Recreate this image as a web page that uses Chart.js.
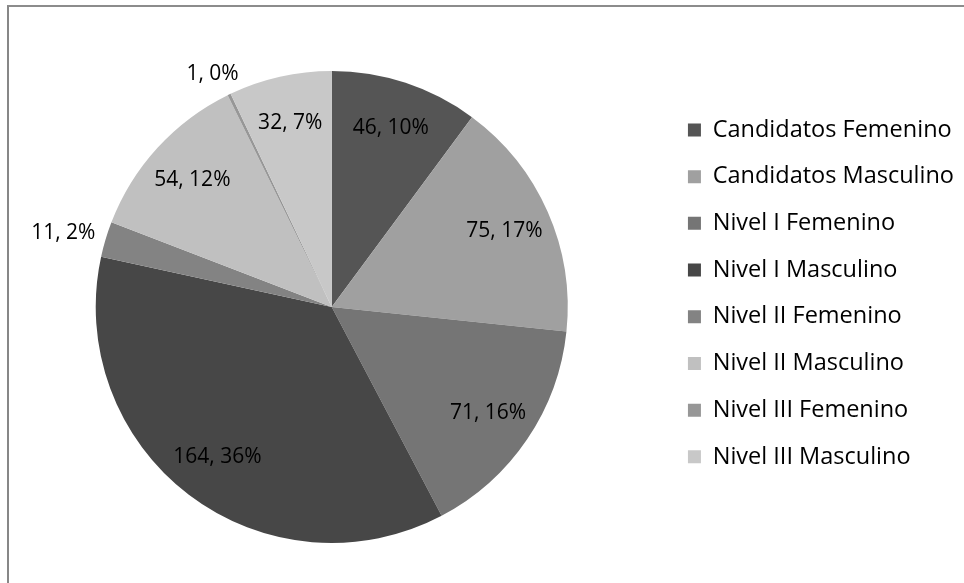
<!DOCTYPE html>
<html>
<head>
<meta charset="utf-8">
<script src="https://cdn.jsdelivr.net/npm/chart.js@4/dist/chart.umd.min.js"></script>
<style>
  html, body { margin: 0; padding: 0; background: #fff; overflow: hidden; width: 964px; height: 583px; }
  #frame { position: absolute; left: 7px; top: 5px; width: 1200px; height: 1200px;
           border-left: 2px solid #878787; border-top: 2px solid #8c8c8c; box-sizing: border-box; }
  #wrap { position: absolute; left: -10px; top: 0; width: 974px; height: 583px; }
</style>
</head>
<body>
<div id="frame"></div>
<div id="wrap"><canvas id="c"></canvas></div>
<script>
const categories = [
  'Candidatos Femenino', 'Candidatos Masculino', 'Nivel I Femenino', 'Nivel I Masculino',
  'Nivel II Femenino', 'Nivel II Masculino', 'Nivel III Femenino', 'Nivel III Masculino'
];
const values = [46, 75, 71, 164, 11, 54, 1, 32];
const colors = ['#555555', '#a0a0a0', '#757575', '#474747', '#838383', '#c0c0c0', '#979797', '#c8c8c8'];

const FAMILY = "'Open Sans', sans-serif";
const LEGEND_FONT = { family: FAMILY, size: 23.5 };
const LABEL_FONT = { family: FAMILY, size: 21 };
const BOX = 13;
const LEG_PAD = 23.2;
const CANVAS_W = 974;
const LEGEND_LEFT = 681.3;

// measure legend width so the legend starts where wanted
const mctx = document.createElement('canvas').getContext('2d');
mctx.font = LEGEND_FONT.size + 'px ' + FAMILY;
const maxTextW = Math.max(...categories.map(t => mctx.measureText(t).width));
const legendW = LEG_PAD + BOX + LEGEND_FONT.size / 2 + maxTextW + 10;
const padRight = Math.max(0, CANVAS_W - LEGEND_LEFT - legendW);

const labelPlugin = {
  id: 'sliceLabels',
  afterDatasetsDraw(chart) {
    const ctx = chart.ctx;
    const meta = chart.getDatasetMeta(0);
    const data = chart.data.datasets[0].data;
    const total = data.reduce((a, b) => a + b, 0);
    ctx.save();
    ctx.font = LABEL_FONT.size + 'px ' + FAMILY;
    ctx.fillStyle = '#000';
    ctx.textBaseline = 'middle';
    ctx.textAlign = 'center';
    meta.data.forEach((arc, i) => {
      const p = arc.getProps(['x', 'y', 'startAngle', 'endAngle', 'outerRadius'], true);
      const mid = (p.startAngle + p.endAngle) / 2;
      const frac = data[i] / total;
      const text = data[i] + ', ' + Math.round(frac * 100) + '%';
      let x, y;
      if (frac < 0.03) {
        const r = p.outerRadius + 12;
        const w = ctx.measureText(text).width;
        x = p.x + Math.cos(mid) * r + Math.cos(mid) * w / 2;
        y = p.y + Math.sin(mid) * r + Math.sin(mid) * LABEL_FONT.size / 2;
      } else {
        const r = p.outerRadius * 0.8;
        x = p.x + Math.cos(mid) * r;
        y = p.y + Math.sin(mid) * r;
      }
      ctx.fillText(text, x, y);
    });
    ctx.restore();
  }
};

new Chart(document.getElementById('c'), {
  type: 'pie',
  data: {
    labels: categories,
    datasets: [{
      data: values,
      backgroundColor: colors,
      borderWidth: 0,
      clip: false
    }]
  },
  options: {
    responsive: true,
    maintainAspectRatio: false,
    animation: false,
    radius: 236,
    layout: { padding: { left: 8.7, right: padRight, top: 95, bottom: 64 } },
    plugins: {
      tooltip: { enabled: false },
      legend: {
        position: 'right',
        align: 'start',
        labels: {
          font: LEGEND_FONT,
          color: '#000',
          boxWidth: BOX,
          boxHeight: BOX,
          padding: LEG_PAD
        }
      }
    }
  },
  plugins: [labelPlugin]
});
</script>
</body>
</html>
